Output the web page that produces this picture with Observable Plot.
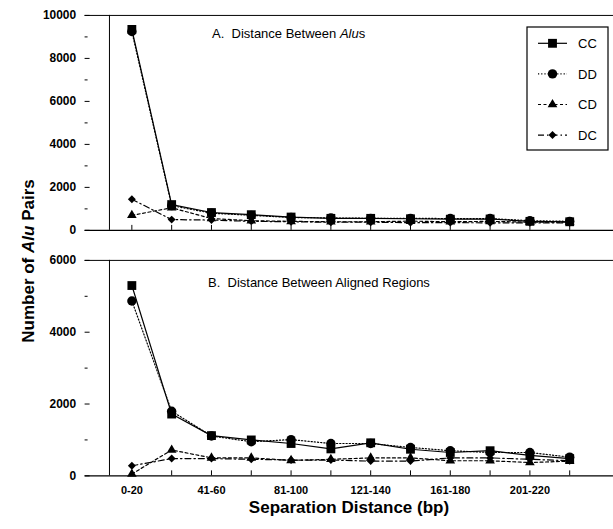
<!DOCTYPE html>
<html>
<head>
<meta charset="utf-8">
<script src="https://cdn.jsdelivr.net/npm/d3@7"></script>
<script src="https://cdn.jsdelivr.net/npm/@observablehq/plot@0.6"></script>
<style>
html, body { margin: 0; padding: 0; background: #fff; }
#chart { position: relative; width: 613px; height: 529px; font-family: "Liberation Sans", Arial, Helvetica, sans-serif; color: #000; background: #fff; overflow: hidden; }
.panel { position: absolute; left: 0; width: 613px; overflow: hidden; }
#overlay { position: absolute; left: 0; top: 0; pointer-events: none; }
</style>
</head>
<body>
<div id="chart">
  <div id="panelA" class="panel" style="top:0px"></div>
  <div id="panelB" class="panel" style="top:240px"></div>
  <svg id="overlay" width="613" height="529"></svg>
</div>
<script>
// ---------- data ----------
const categories = ["0-20","21-40","41-60","61-80","81-100","101-120","121-140","141-160","161-180","181-200","201-220","221-240"];
const xTickLabels = ["0-20","41-60","81-100","121-140","161-180","201-220"];
const seriesNames = ["CC","DD","CD","DC"];

// Panel A: Distance Between Alus
const ccA = [9350, 1200, 830, 730, 620, 560, 560, 540, 520, 530, 420, 400];
const ddA = [9250, 1150, 800, 700, 600, 580, 560, 560, 550, 550, 450, 420];
const cdA = [700, 1050, 550, 450, 420, 400, 400, 430, 400, 420, 380, 380];
const dcA = [1450, 500, 480, 420, 400, 380, 380, 360, 360, 350, 350, 350];

// Panel B: Distance Between Aligned Regions
const ccB = [5300, 1720, 1120, 1000, 900, 750, 920, 740, 650, 700, 570, 480];
const ddB = [4870, 1800, 1110, 950, 1010, 900, 900, 790, 700, 650, 650, 520];
const cdB = [50, 720, 500, 500, 430, 460, 500, 500, 420, 420, 370, 410];
const dcB = [280, 480, 480, 460, 440, 440, 410, 410, 500, 500, 460, 420];

const yTicksA = [0, 2000, 4000, 6000, 8000, 10000];
const yMinorA = [1000, 3000, 5000, 7000, 9000];
const yTicksB = [0, 2000, 4000, 6000];
const yMinorB = [1000, 3000, 5000];

// ---------- styles ----------
const FONT = '"Liberation Sans", Arial, Helvetica, sans-serif';
const INSET_LEFT = 22.5, INSET_RIGHT = 20;
const seriesStyle = {
  CC: {dash: null,          symbol: "square",   d3symbol: d3.symbolSquare,   r: 5.0},
  DD: {dash: "1.2,2",       symbol: "circle",   d3symbol: d3.symbolCircle,   r: 4.7},
  CD: {dash: "3,2.5",       symbol: "triangle", d3symbol: d3.symbolTriangle, r: 3.6},
  DC: {dash: "6,3,1.5,3",   symbol: "diamond2", d3symbol: d3.symbolDiamond2, r: 3.6}
};

function table(values) {
  return values.map((v, i) => ({cat: categories[i], v}));
}

function panel(seriesValues, opts) {
  const marks = [
    Plot.ruleY([opts.yDomain[1]], {stroke: "black", strokeWidth: 1}),
    Plot.ruleY([0], {stroke: "black", strokeWidth: 1.2}),
    Plot.ruleX([categories[0]], {dx: -INSET_LEFT, stroke: "black", strokeWidth: 1}),
    Plot.axisY(opts.yMajor, {tickSize: 0, tickPadding: 9, tickFormat: d => String(d), fontWeight: "bold", fontSize: 12, label: null, fill: "black"}),
    Plot.axisY(opts.yMajor, {tickSize: -5, tickFormat: () => "", label: null, stroke: "black"}),
    Plot.axisY(opts.yMinor, {tickSize: -3, tickFormat: () => "", label: null, stroke: "black"}),
    Plot.axisX(categories, {tickSize: -5, tickFormat: () => "", label: null, stroke: "black"})
  ];
  if (opts.showXLabels) {
    marks.push(Plot.axisX(xTickLabels, {tickSize: 0, tickPadding: 10.5, fontWeight: "bold", fontSize: 11, label: null, fill: "black"}));
  }
  seriesNames.forEach((name, k) => {
    const st = seriesStyle[name];
    marks.push(Plot.line(table(seriesValues[k]), {
      x: "cat", y: "v", stroke: "black", strokeWidth: 1.2,
      strokeDasharray: st.dash
    }));
  });
  seriesNames.forEach((name, k) => {
    const st = seriesStyle[name];
    marks.push(Plot.dot(table(seriesValues[k]), {
      x: "cat", y: "v", symbol: () => st.symbol, r: st.r, fill: "black", stroke: "none"
    }));
  });
  return Plot.plot({
    width: 616,
    height: opts.height,
    marginLeft: 85,
    marginRight: 0,
    marginTop: opts.marginTop,
    marginBottom: opts.marginBottom,
    style: {fontFamily: FONT, color: "black", background: "white", overflow: "visible"},
    x: {type: "point", domain: categories, insetLeft: INSET_LEFT, insetRight: INSET_RIGHT},
    y: {domain: opts.yDomain, nice: false},
    symbol: {type: "identity"},
    marks
  });
}

document.getElementById("panelA").appendChild(panel([ccA, ddA, cdA, dcA], {
  height: 240, marginTop: 15, marginBottom: 9, yDomain: [0, 10000],
  yMajor: yTicksA, yMinor: yMinorA, showXLabels: false
}));
document.getElementById("panelB").appendChild(panel([ccB, ddB, cdB, dcB], {
  height: 289, marginTop: 20, marginBottom: 52.5, yDomain: [0, 6000],
  yMajor: yTicksB, yMinor: yMinorB, showXLabels: true
}));

// ---------- overlay: titles and legend ----------
const svg = d3.select("#overlay").style("font-family", FONT);

const tA = svg.append("text").attr("x", 212).attr("y", 37.5).attr("font-size", 13)
  .style("white-space", "pre").attr("fill", "black");
tA.append("tspan").text("A.  Distance Between ");
tA.append("tspan").attr("font-style", "italic").text("Alu");
tA.append("tspan").text("s");

svg.append("text").attr("x", 208).attr("y", 286.5).attr("font-size", 13)
  .style("white-space", "pre").attr("fill", "black")
  .text("B.  Distance Between Aligned Regions");

const yt = svg.append("text")
  .attr("transform", "translate(34,261) rotate(-90)")
  .attr("text-anchor", "middle").attr("font-size", 17).attr("font-weight", "bold")
  .style("white-space", "pre").attr("fill", "black");
yt.append("tspan").text("Number of ");
yt.append("tspan").attr("font-style", "italic").text("Alu");
yt.append("tspan").text(" Pairs");

svg.append("text").attr("x", 349).attr("y", 513)
  .attr("text-anchor", "middle").attr("font-size", 17).attr("font-weight", "bold")
  .attr("fill", "black").text("Separation Distance (bp)");

// legend
const lg = svg.append("g");
lg.append("rect").attr("x", 527).attr("y", 27).attr("width", 81).attr("height", 123)
  .attr("fill", "white").attr("stroke", "black").attr("stroke-width", 1.2);
seriesNames.forEach((name, i) => {
  const st = seriesStyle[name];
  const y = 43.3 + i * 30.6;
  lg.append("line").attr("x1", 538).attr("x2", 567).attr("y1", y).attr("y2", y)
    .attr("stroke", "black").attr("stroke-width", 1.2)
    .attr("stroke-dasharray", st.dash);
  lg.append("path").attr("transform", `translate(552.5,${y})`)
    .attr("d", d3.symbol(st.d3symbol, Math.PI * st.r * st.r)())
    .attr("fill", "black");
  lg.append("text").attr("x", 578).attr("y", y + 4.6).attr("font-size", 13)
    .attr("fill", "black").text(name);
});
</script>
</body>
</html>
